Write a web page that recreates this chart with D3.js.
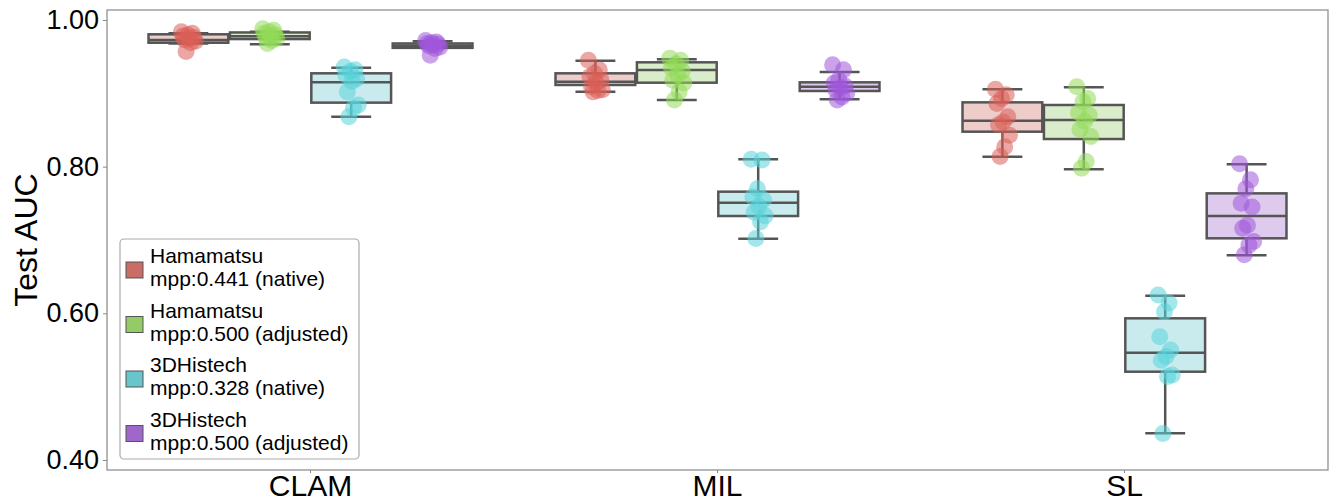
<!DOCTYPE html>
<html>
<head>
<meta charset="utf-8">
<script src="https://cdn.jsdelivr.net/npm/d3@7"></script>
<style>
  body { margin: 0; background: #fff; }
  svg text { font-family: "Liberation Sans", Arial, Helvetica, sans-serif; fill: #000; }
</style>
</head>
<body>
<div id="chart"></div>
<script>
// categories, hues and ticks
var categories = ["CLAM", "MIL", "SL"];
var seriesLabels = [
    ["Hamamatsu", "mpp:0.441 (native)"],
    ["Hamamatsu", "mpp:0.500 (adjusted)"],
    ["3DHistech", "mpp:0.328 (native)"],
    ["3DHistech", "mpp:0.500 (adjusted)"]
];
var yTicks = [0.40, 0.60, 0.80, 1.00];

// box stats per category: [whiskerLow, q1, median, q3, whiskerHigh]
var hamaNativeBox   = [[0.968, 0.969, 0.9727, 0.9805, 0.982], [0.9023, 0.9114, 0.9159, 0.9273, 0.9445], [0.8136, 0.8477, 0.8627, 0.8877, 0.9055]];
var hamaAdjustedBox = [[0.967, 0.974, 0.978, 0.983, 0.984],   [0.891, 0.9145, 0.9318, 0.9423, 0.9464],   [0.7964, 0.8377, 0.8636, 0.8841, 0.9082]];
var histNativeBox   = [[0.868, 0.8873, 0.915, 0.9273, 0.935],  [0.7018, 0.7327, 0.7509, 0.7659, 0.810],   [0.4364, 0.5204, 0.5463, 0.5932, 0.624]];
var histAdjustedBox = [[0.962, 0.962, 0.965, 0.968, 0.971],   [0.8919, 0.9032, 0.909, 0.915, 0.929],     [0.6791, 0.7023, 0.7327, 0.7636, 0.8032]];

// individual fold AUCs per category
var hamaNativePts = [
    [0.984, 0.982, 0.980, 0.978, 0.976, 0.975, 0.973, 0.971, 0.969, 0.957],
    [0.945, 0.932, 0.927, 0.923, 0.918, 0.914, 0.909, 0.905, 0.904, 0.902],
    [0.9055, 0.898, 0.893, 0.886, 0.868, 0.861, 0.857, 0.843, 0.827, 0.814]
];
var hamaAdjustedPts = [
    [0.988, 0.986, 0.984, 0.982, 0.980, 0.978, 0.976, 0.975, 0.972, 0.968],
    [0.948, 0.945, 0.940, 0.935, 0.930, 0.925, 0.918, 0.914, 0.902, 0.891],
    [0.909, 0.893, 0.889, 0.874, 0.870, 0.862, 0.851, 0.841, 0.807, 0.798]
];
var histNativePts = [
    [0.936, 0.932, 0.930, 0.925, 0.920, 0.916, 0.902, 0.884, 0.880, 0.868],
    [0.810, 0.809, 0.770, 0.759, 0.755, 0.746, 0.738, 0.733, 0.725, 0.702],
    [0.625, 0.614, 0.602, 0.568, 0.550, 0.541, 0.536, 0.516, 0.514, 0.436]
];
var histAdjustedPts = [
    [0.972, 0.970, 0.969, 0.968, 0.967, 0.966, 0.965, 0.963, 0.961, 0.952],
    [0.939, 0.932, 0.918, 0.914, 0.910, 0.908, 0.905, 0.900, 0.895, 0.891],
    [0.804, 0.782, 0.770, 0.750, 0.745, 0.720, 0.716, 0.698, 0.693, 0.680]
];

var boxes = [hamaNativeBox, hamaAdjustedBox, histNativeBox, histAdjustedBox];
var points = [hamaNativePts, hamaAdjustedPts, histNativePts, histAdjustedPts];

// seaborn hls palette and its 0.75-desaturated version
var pointColors = ["#db5f57", "#91db57", "#57d3db", "#a157db"];
var boxColors = ["#cb6d67", "#93cb67", "#67c5cb", "#9f67cb"];

var W = 1333, H = 504;
var plot = {left: 107, right: 1328, top: 10, bottom: 470};

var svg = d3.select("#chart").append("svg").attr("width", W).attr("height", H);

var xScale = d3.scaleBand().domain(categories).range([plot.left, plot.right]).padding(0);
var hueScale = d3.scaleBand().domain(d3.range(4)).range([-0.4 * xScale.bandwidth(), 0.4 * xScale.bandwidth()]).padding(0);
var pxPerUnit = (460 - 20) / 0.6;
var yScale = d3.scaleLinear()
    .domain([0.40 - (plot.bottom - 460) / pxPerUnit, 1.00 + (20 - plot.top) / pxPerUnit])
    .range([plot.bottom, plot.top]);

var boxW = hueScale.bandwidth() * 0.98;
var lineColor = "#555555";

function hueCenter(cat, h) {
    return xScale(cat) + xScale.bandwidth() / 2 + hueScale(h) + hueScale.bandwidth() / 2;
}

// Draw boxes
var gBox = svg.append("g");
boxes.forEach(function (series, h) {
    series.forEach(function (s, c) {
        var cx = hueCenter(categories[c], h);
        var g = gBox.append("g");
        g.append("line").attr("x1", cx).attr("x2", cx).attr("y1", yScale(s[0])).attr("y2", yScale(s[1]))
            .attr("stroke", lineColor).attr("stroke-width", 2.5);
        g.append("line").attr("x1", cx).attr("x2", cx).attr("y1", yScale(s[3])).attr("y2", yScale(s[4]))
            .attr("stroke", lineColor).attr("stroke-width", 2.5);
        [s[0], s[4]].forEach(function (v) {
            g.append("line").attr("x1", cx - boxW / 4).attr("x2", cx + boxW / 4)
                .attr("y1", yScale(v)).attr("y2", yScale(v))
                .attr("stroke", lineColor).attr("stroke-width", 2.5);
        });
        g.append("rect").attr("x", cx - boxW / 2).attr("width", boxW)
            .attr("y", yScale(s[3])).attr("height", yScale(s[1]) - yScale(s[3]))
            .attr("fill", boxColors[h]).attr("fill-opacity", 0.35)
            .attr("stroke", lineColor).attr("stroke-width", 2.5);
        g.append("line").attr("x1", cx - boxW / 2).attr("x2", cx + boxW / 2)
            .attr("y1", yScale(s[2])).attr("y2", yScale(s[2]))
            .attr("stroke", lineColor).attr("stroke-width", 2.5);
    });
});

// Draw points (deterministic small jitter)
function jitter(i) { return (((i * 7) % 10) / 9 - 0.5) * 14; }
var gPts = svg.append("g");
points.forEach(function (series, h) {
    series.forEach(function (vals, c) {
        var cx = hueCenter(categories[c], h);
        gPts.selectAll(null).data(vals).enter().append("circle")
            .attr("cx", function (d, i) { return cx + jitter(i); })
            .attr("cy", function (d) { return yScale(d); })
            .attr("r", 8.5)
            .attr("fill", pointColors[h])
            .attr("fill-opacity", 0.55);
    });
});

// Axes
var yAxis = d3.axisLeft(yScale).tickValues(yTicks).tickFormat(d3.format(".2f")).tickSize(4).tickPadding(4);
var gy = svg.append("g").attr("transform", "translate(" + plot.left + ",0)").call(yAxis);
gy.select(".domain").remove();
gy.selectAll(".tick line").attr("stroke", "#888");
gy.selectAll(".tick text").style("font-size", "27px");

var xAxis = d3.axisBottom(xScale).tickSize(3).tickPadding(2);
var gx = svg.append("g").attr("transform", "translate(0," + plot.bottom + ")").call(xAxis);
gx.select(".domain").remove();
gx.selectAll(".tick line").attr("stroke", "#888");
gx.selectAll(".tick text").style("font-size", "30px");

// Frame
svg.append("rect").attr("x", plot.left).attr("y", plot.top)
    .attr("width", plot.right - plot.left).attr("height", plot.bottom - plot.top)
    .attr("fill", "none").attr("stroke", "#888").attr("stroke-width", 1.2);

// Y label
svg.append("text")
    .attr("transform", "translate(37," + (plot.top + plot.bottom) / 2 + ") rotate(-90)")
    .attr("text-anchor", "middle")
    .style("font-size", "32px")
    .text("Test AUC");

// Legend
var legend = svg.append("g");
legend.append("rect").attr("x", 120).attr("y", 239).attr("width", 239).attr("height", 220)
    .attr("rx", 4).attr("fill", "#fff").attr("fill-opacity", 0.8)
    .attr("stroke", "#aaa").attr("stroke-width", 1.2);
seriesLabels.forEach(function (lab, h) {
    var y0 = 263 + h * 54.5;
    legend.append("rect").attr("x", 126).attr("y", y0 - 1).attr("width", 17).attr("height", 16)
        .attr("fill", boxColors[h]).attr("stroke", "#555").attr("stroke-width", 1);
    legend.append("text").attr("x", 150).attr("y", y0).style("font-size", "21px").text(lab[0]);
    legend.append("text").attr("x", 150).attr("y", y0 + 23).style("font-size", "21px").text(lab[1]);
});
</script>
</body>
</html>
